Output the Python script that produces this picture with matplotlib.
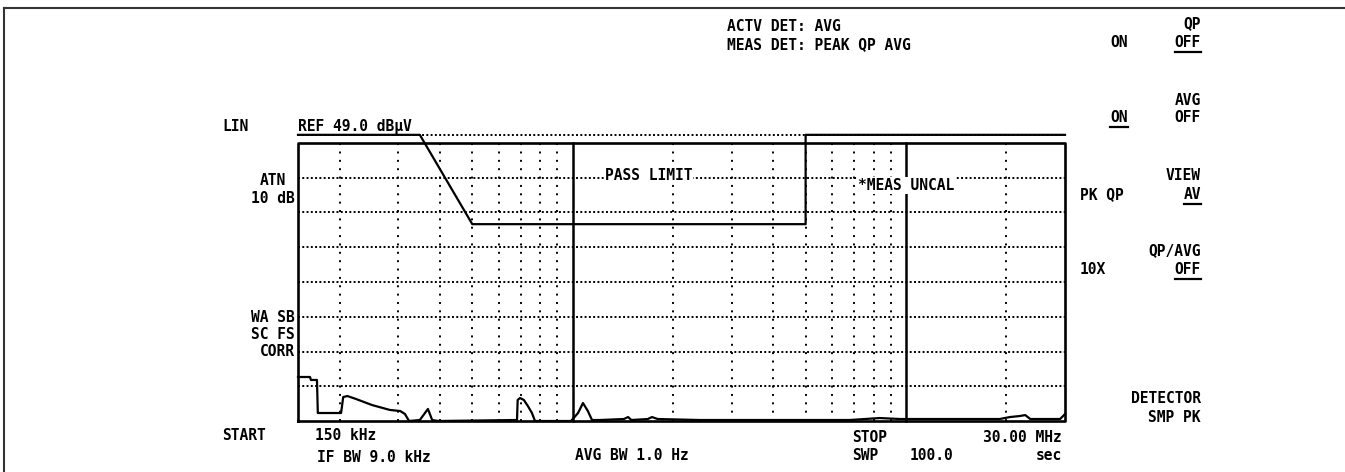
"""
EMI analyzer screen: average detector trace against the pass limit line.
"""

import matplotlib

matplotlib.use("Agg")
import matplotlib.pyplot as plt
import numpy as np
from matplotlib.lines import Line2D

W, H = 1345, 472

# graticule
ref_uv = 281.8  # 49.0 dBuV, top of screen (linear scale)
n_div = 8
f_start, f_stop = 0.15, 30.0  # MHz
dotted_freqs = [0.2, 0.3, 0.4, 0.5, 0.6, 0.7, 0.8, 0.9,
                2, 3, 4, 5, 6, 7, 8, 9, 20]
solid_freqs = [1.0, 10.0]

# limit line as shown (clipped above the reference level), MHz / dBuV
limit_freq = [0.15, 0.348, 0.5, 5.0, 5.0, 30.0]
limit_dbuv = [49.25, 49.25, 46.0, 46.0, 49.25, 49.25]

# measured trace, MHz / uV
trace_freq = [0.15, 0.163, 0.164, 0.171, 0.172, 0.202, 0.205, 0.211, 0.224,
              0.250, 0.283, 0.304, 0.314, 0.323, 0.348, 0.368, 0.379, 0.396,
              0.681, 0.684, 0.695, 0.714, 0.734, 0.755, 0.771, 0.989, 1.038,
              1.074, 1.111, 1.143, 1.207, 1.425, 1.467, 1.50, 1.68, 1.73,
              1.80, 2.41, 6.78, 8.35, 9.6, 19.1, 20.5, 21.9, 22.8, 23.6,
              29.0, 30.0]
trace_uv = [44.6, 44.6, 41.6, 41.6, 8.1, 8.1, 24.3, 25.3, 22.3,
            16.2, 11.2, 10.1, 7.1, 0.0, 1.0, 12.2, 1.0, 0.0,
            1.0, 21.3, 23.3, 21.3, 15.2, 8.1, 0.0, 0.0, 8.1,
            18.2, 10.1, 1.0, 1.0, 2.0, 4.0, 1.0, 2.0, 4.0,
            2.0, 1.0, 1.0, 3.0, 2.0, 2.0, 4.0, 5.0, 6.0, 2.0,
            2.0, 7.0]

FONT = dict(family="DejaVu Sans Mono", weight="bold", size=10.5, color="black")


def px(x, y):
    """Pixel position (from top-left) to figure fraction."""
    return x / W, 1 - y / H


def label(fig, x, y, s, ha="left", underline=False, **kw):
    t = fig.text(*px(x, y), s, ha=ha, va="baseline", **FONT, **kw)
    if underline:
        fig.canvas.draw()
        bb = t.get_window_extent().transformed(fig.transFigure.inverted())
        yy = 1 - (y + 5) / H
        fig.add_artist(Line2D([bb.x0, bb.x1], [yy, yy], color="black",
                              lw=1.6, transform=fig.transFigure))
    return t


fig = plt.figure(figsize=(W / 100, H / 100), dpi=100)

# screen area: bottom at y=421 px, 0.9865 px per uV
y_top = 292.0
ax = fig.add_axes([298 / W, 51 / H, 767 / W, (y_top * 278 / ref_uv) / H])
ax.set_xscale("log")
ax.set_xlim(f_start, f_stop)
ax.set_ylim(0, y_top)
ax.axis("off")

levels = [ref_uv * k / n_div for k in range(1, n_div)]
for lv in levels:
    ax.plot([f_start, f_stop], [lv, lv], color="black", lw=1.4,
            ls=(0, (1, 1.2)), clip_on=False)
for f in dotted_freqs:
    ax.plot([f, f], [0, ref_uv], color="black", lw=1.4,
            ls=(0, (1, 3.3)), clip_on=False)
for f in solid_freqs:
    ax.plot([f, f], [0, ref_uv], color="black", lw=1.8, clip_on=False)

# graticule box
ax.plot([f_start, f_stop, f_stop, f_start, f_start],
        [0, 0, ref_uv, ref_uv, 0], color="black", lw=1.9, clip_on=False)

# display line just above the box
top_line = 10 ** (limit_dbuv[0] / 20)
ax.plot([f_start, f_stop], [top_line, top_line], color="black", lw=1.4,
        ls=(0, (1, 1.2)), clip_on=False)

limit_uv = 10 ** (np.array(limit_dbuv) / 20)
ax.plot(limit_freq, limit_uv, color="black", lw=1.6, clip_on=False)
ax.plot(trace_freq, trace_uv, color="black", lw=1.6, clip_on=False)

# outer frame (top and left edges)
fig.add_artist(Line2D([4 / W, 1], [1 - 8 / H, 1 - 8 / H], color="#333333",
                      lw=1.5, transform=fig.transFigure))
fig.add_artist(Line2D([4 / W, 4 / W], [0, 1 - 8 / H], color="#333333",
                      lw=1.5, transform=fig.transFigure))

# header
label(fig, 727, 31, "ACTV DET: AVG")
label(fig, 727, 49, "MEAS DET: PEAK QP AVG")

# softkey column
label(fig, 1201, 28, "QP", ha="right")
label(fig, 1110, 47, "ON")
label(fig, 1201, 47, "OFF", ha="right", underline=True)
label(fig, 1201, 105, "AVG", ha="right")
label(fig, 1110, 122, "ON", underline=True)
label(fig, 1201, 122, "OFF", ha="right")
label(fig, 1201, 180, "VIEW", ha="right")
label(fig, 1080, 199, "PK QP")
label(fig, 1201, 199, "AV", ha="right", underline=True)
label(fig, 1201, 255, "QP/AVG", ha="right")
label(fig, 1080, 274, "10X")
label(fig, 1201, 274, "OFF", ha="right", underline=True)
label(fig, 1201, 403, "DETECTOR", ha="right")
label(fig, 1201, 422, "SMP PK", ha="right")

# left annotations
label(fig, 222, 131, "LIN")
label(fig, 298, 131, "REF 49.0 dBµV")
label(fig, 286, 185, "ATN", ha="right")
label(fig, 295, 203, "10 dB", ha="right")
label(fig, 295, 322, "WA SB", ha="right")
label(fig, 295, 339, "SC FS", ha="right")
label(fig, 295, 356, "CORR", ha="right")

# in-screen messages
bg = dict(facecolor="white", edgecolor="none", pad=0.5)
label(fig, 605, 180, "PASS LIMIT", bbox=bg)
label(fig, 858, 190, "*MEAS UNCAL", bbox=bg)

# footer
label(fig, 222, 440, "START")
label(fig, 315, 440, "150 kHz")
label(fig, 317, 462, "IF BW 9.0 kHz")
label(fig, 575, 460, "AVG BW 1.0 Hz")
label(fig, 852, 442, "STOP")
label(fig, 1062, 442, "30.00 MHz", ha="right")
label(fig, 852, 460, "SWP")
label(fig, 910, 460, "100.0")
label(fig, 1062, 460, "sec", ha="right")

fig.savefig("out.png", dpi=100)
plt.close(fig)
